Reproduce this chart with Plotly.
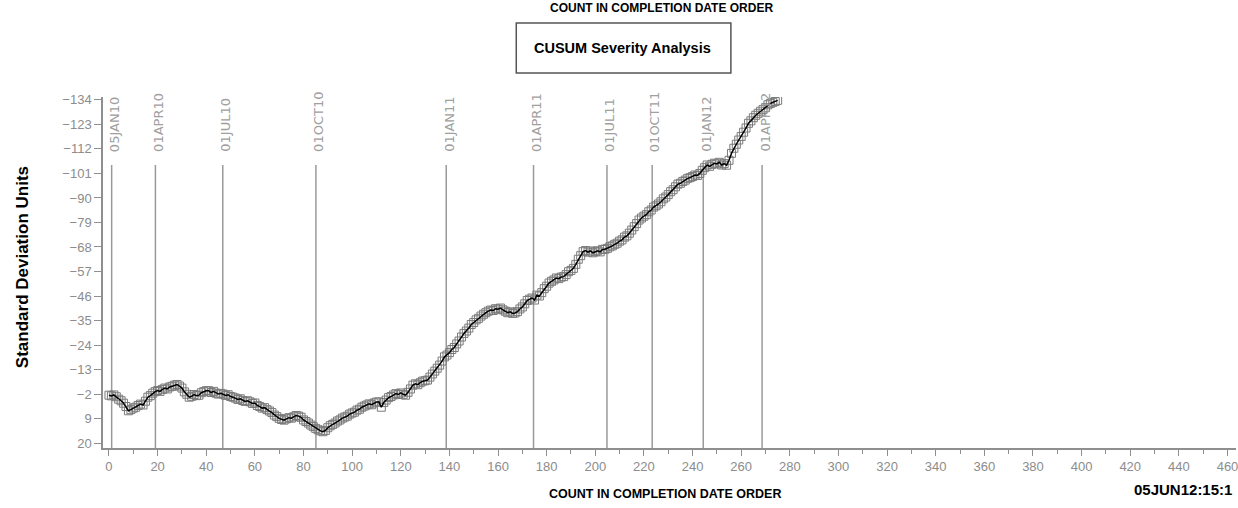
import plotly.graph_objects as go

# CUSUM values in completion-date order (count 0 .. 275)
cusum = [
    -1.5, -1.2, -1.6, -0.8, 0.3, 1.0, 2.1, 3.6, 5.5, 5.0, 4.3,
    3.9, 3.1, 2.5, 2.9, 1.2, -0.6, -1.3, -2.4, -3.1, -3.6,
    -3.2, -4.1, -4.7, -4.3, -5.2, -5.5, -6.0, -6.3, -5.6, -4.7,
    -3.0, -1.9, -0.6, -1.0, -1.8, -1.3, -1.5, -2.6, -3.1, -3.5,
    -3.5, -2.7, -3.2, -2.4, -2.0, -2.3, -2.0, -1.4, -1.7, -0.9,
    -0.6, -0.2, 0.4, 0.1, 0.9, 1.3, 1.0, 1.5, 2.2, 2.0,
    3.1, 3.6, 4.3, 4.1, 5.0, 5.6, 6.3, 7.4, 8.1, 8.9,
    9.4, 9.7, 9.1, 8.6, 8.8, 8.2, 7.6, 7.9, 8.4, 9.6,
    10.3, 11.0, 11.9, 12.6, 13.4, 14.0, 14.5, 14.9, 14.3, 13.1,
    12.2, 11.6, 11.0, 10.1, 9.6, 8.8, 8.3, 7.9, 7.0, 6.5,
    6.1, 5.2, 4.8, 3.9, 3.4, 2.9, 2.4, 2.8, 2.0, 1.6,
    1.5, 3.9, 1.8, 0.7, -0.4, -0.9, -1.6, -2.2, -1.8, -2.5,
    -1.9, -1.5, -2.8, -4.3, -6.0, -6.6, -6.2, -7.1, -7.8, -8.0,
    -8.3, -9.6, -11.0, -12.3, -13.6, -15.0, -16.8, -18.7, -19.5, -20.6,
    -22.0, -22.9, -24.5, -25.8, -27.6, -29.2, -30.3, -31.6, -33.2, -34.1,
    -35.3, -36.0, -37.0, -37.8, -38.5, -39.2, -39.7, -39.5, -40.3, -40.1,
    -40.6, -39.8, -39.2, -38.5, -38.9, -38.2, -38.4, -39.0, -40.2, -41.1,
    -42.5, -44.0, -44.6, -45.1, -44.2, -46.4, -46.0, -47.5, -49.3, -50.4,
    -51.8, -52.6, -53.2, -54.1, -53.8, -54.5, -54.7, -55.6, -56.9, -57.5,
    -58.4, -60.2, -62.5, -64.1, -65.9, -66.4, -65.7, -66.2, -65.4, -65.9,
    -66.3, -65.8, -66.9, -67.0, -67.4, -68.1, -68.5, -69.2, -69.7, -70.6,
    -71.2, -72.4, -73.0, -74.2, -75.6, -77.1, -78.5, -80.1, -81.0, -81.8,
    -82.5, -83.8, -84.6, -85.9, -86.5, -87.3, -88.3, -89.6, -90.4, -91.5,
    -92.8, -93.7, -95.0, -96.2, -96.6, -97.4, -98.0, -98.8, -99.1, -99.6,
    -100.3, -100.1, -101.0, -102.4, -103.6, -104.8, -104.2, -105.1, -105.6, -105.3,
    -106.0, -104.8, -105.4, -104.7, -106.9, -110.0, -112.3, -114.1, -116.0, -117.6,
    -119.5, -121.4, -123.5, -124.6, -126.0, -127.1, -128.0, -128.9, -129.7, -130.5,
    -131.8, -132.4, -132.9, -133.3, -133.8,
]
count = list(range(len(cusum)))

# Calendar reference dates and the count at which each falls
date_labels = ["05JAN10", "01APR10", "01JUL10", "01OCT10", "01JAN11",
               "01APR11", "01JUL11", "01OCT11", "01JAN12", "01APR12"]
date_counts = [1.1, 19.1, 46.8, 85.1, 138.7, 174.6, 204.8, 223.4, 244.4, 268.6]

y_ticks = [-134, -123, -112, -101, -90, -79, -68, -57, -46, -35, -24, -13, -2, 9, 20]
x_ticks = list(range(0, 461, 20))

W, H = 1238, 508
L, R, T, B = 103, 0, 97, 60
X_RANGE = [-2.46, 463.5]
Y_RANGE = [22.2, -135.3]
REF_TOP = -104.8

GRAY = "#8c8c8c"
AXIS = "#8f8f8f"
BOLD = "Liberation Sans, Arial, sans-serif"
TICKFONT = dict(family="Liberation Sans, Arial, sans-serif", size=13, color=GRAY)


def px(xp, yp):
    """Pixel position in the page -> paper coordinates."""
    return (xp - L) / (W - L - R), (H - B - yp) / (H - T - B)


fig = go.Figure()

# gray open squares at each point, black line on top
fig.add_trace(go.Scatter(
    x=count, y=cusum, mode="markers",
    marker=dict(symbol="square-open", size=8, color="#7a7a7a", line=dict(width=1)),
    hoverinfo="skip", showlegend=False,
))
fig.add_trace(go.Scatter(
    x=count, y=cusum, mode="lines",
    line=dict(color="black", width=1.5),
    showlegend=False,
))

shapes = []
annotations = []
for lab, xc in zip(date_labels, date_counts):
    shapes.append(dict(type="line", xref="x", yref="y", x0=xc, x1=xc,
                       y0=Y_RANGE[0], y1=REF_TOP,
                       line=dict(color="#9a9a9a", width=1.5), layer="below"))
    annotations.append(dict(x=xc, y=REF_TOP, xref="x", yref="y", text=lab,
                            textangle=-90, showarrow=False, xanchor="center",
                            yanchor="bottom", yshift=11, xshift=3,
                            font=dict(family="DejaVu Sans, sans-serif", size=13, color="#a0a0a0")))

# title box
bx0, by0 = px(517, 73)
bx1, by1 = px(732, 23)
shapes.append(dict(type="rect", xref="paper", yref="paper", x0=bx0, y0=by0, x1=bx1, y1=by1,
                   line=dict(color="#555555", width=1.5), fillcolor="white"))
cx, cy = px(623, 48)
annotations.append(dict(x=cx, y=cy, xref="paper", yref="paper", text="<b>CUSUM Severity Analysis</b>",
                        showarrow=False, xanchor="center", yanchor="middle",
                        font=dict(family=BOLD, size=14.5, color="black")))

tx, ty = px(662, 8)
annotations.append(dict(x=tx, y=ty, xref="paper", yref="paper", text="<b>COUNT IN COMPLETION DATE ORDER</b>",
                        showarrow=False, xanchor="center", yanchor="middle",
                        font=dict(family=BOLD, size=12, color="black")))

bx, bty = px(666, 494)
annotations.append(dict(x=bx, y=bty, xref="paper", yref="paper", text="<b>COUNT IN COMPLETION DATE ORDER</b>",
                        showarrow=False, xanchor="center", yanchor="middle",
                        font=dict(family=BOLD, size=12.5, color="black")))

sx, sy = px(1236, 489)
annotations.append(dict(x=sx, y=sy, xref="paper", yref="paper", text="<b>05JUN12:15:1</b>",
                        showarrow=False, xanchor="right", yanchor="middle",
                        font=dict(family=BOLD, size=15, color="black")))

yx, yy = px(22, 267)
annotations.append(dict(x=yx, y=yy, xref="paper", yref="paper", text="<b>Standard Deviation Units</b>",
                        showarrow=False, textangle=-90, xanchor="center", yanchor="middle",
                        font=dict(family=BOLD, size=17, color="black")))

fig.update_layout(
    width=W, height=H,
    margin=dict(l=L, r=R, t=T, b=B, pad=0),
    paper_bgcolor="white", plot_bgcolor="white",
    shapes=shapes, annotations=annotations,
    xaxis=dict(range=X_RANGE, tickvals=x_ticks, showgrid=False, zeroline=False,
               showline=True, linecolor=AXIS, linewidth=1.5,
               ticks="outside", ticklen=6, tickwidth=1.2, tickcolor=AXIS,
               tickfont=TICKFONT, ticklabeloverflow="allow",
               minor=dict(dtick=10, tick0=0, ticks="outside", ticklen=4, tickcolor=AXIS, tickwidth=1)),
    yaxis=dict(range=Y_RANGE, tickvals=y_ticks, showgrid=False, zeroline=False,
               showline=True, linecolor=AXIS, linewidth=1.5,
               ticks="outside", ticklen=7, tickwidth=1.2, tickcolor=AXIS,
               tickfont=TICKFONT),
)

fig.write_html("out.html")
